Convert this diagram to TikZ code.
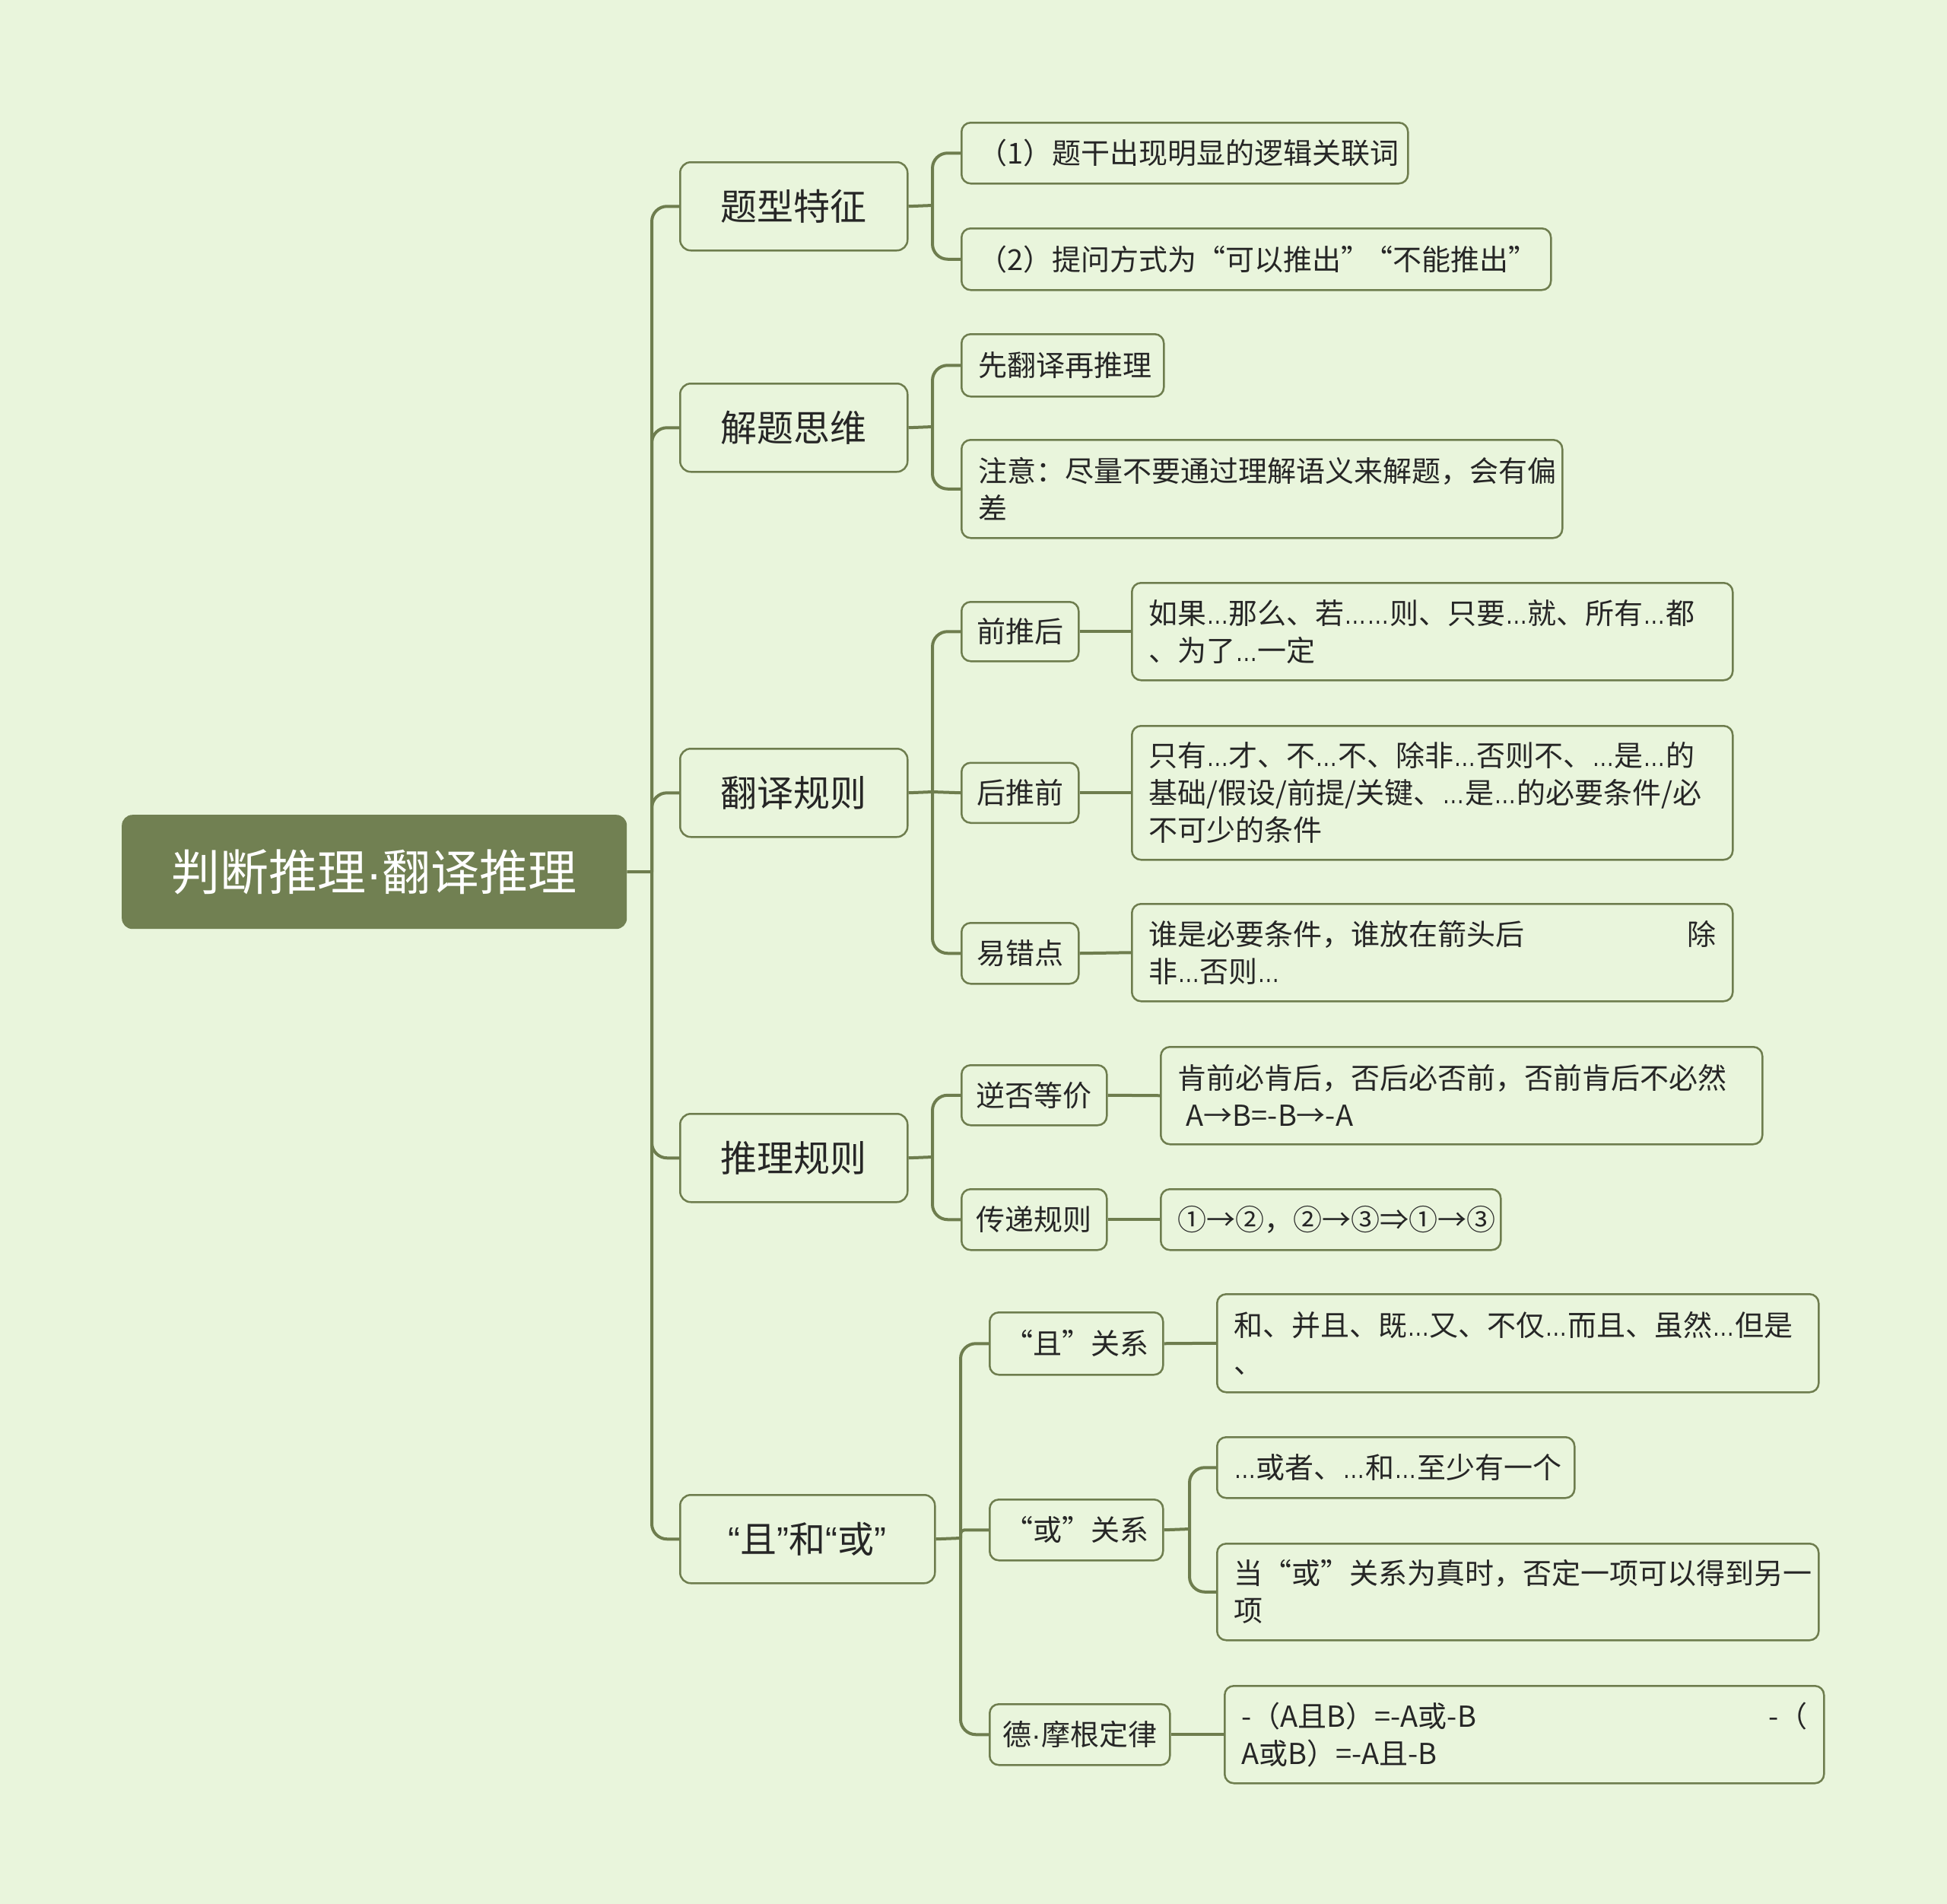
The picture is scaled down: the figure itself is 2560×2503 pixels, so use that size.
\documentclass[tikz,border=0pt]{standalone}
\usepackage{fontspec}
\usepackage{graphicx}
\setmainfont{Noto Sans CJK SC}
\newfontfamily\latinel{Liberation Sans}
\newcommand\el{\scalebox{0.78}[1]{\latinel …}}
\newcommand\mdot{{\latinel ·}}
\definecolor{bgC}{HTML}{E9F5DC}
\definecolor{rootC}{HTML}{718052}
\definecolor{lineC}{HTML}{6E7D4E}
\definecolor{txtC}{HTML}{262626}
\begin{document}
\begin{tikzpicture}[x=1pt,y=-1pt,
  conn/.style={draw=lineC, line width=4pt},
  curv/.style={conn, rounded corners=20pt},
  rootbox/.style={fill=rootC, rounded corners=14pt, text=white, font=\fontsize{64pt}{76pt}\selectfont, inner sep=0pt, anchor=north west, align=center},
  l1box/.style={draw=lineC, line width=2.5pt, fill=bgC, rounded corners=14pt, font=\fontsize{48pt}{58pt}\selectfont, inner sep=0pt, anchor=north west, text=txtC, align=center, minimum height=116pt},
  midbox/.style={draw=lineC, line width=2.5pt, fill=bgC, rounded corners=12pt, font=\fontsize{38pt}{49pt}\selectfont, inner sep=0pt, anchor=north west, text=txtC, align=center},
  leaf/.style={draw=lineC, line width=2.5pt, fill=bgC, rounded corners=12pt, font=\fontsize{38pt}{49pt}\selectfont, inner xsep=22pt, inner ysep=0pt, anchor=north west, text=txtC, align=left}
]
\fill[bgC] (0,0) rectangle (2560,2503);
\useasboundingbox (0,0) rectangle (2560,2503);

% root
\node[rootbox, minimum width=664pt, minimum height=150pt] (root) at (160,1071) {判断推理\mdot 翻译推理};

% level 1
\node[l1box, minimum width=299pt] (A) at (893,212) {题型特征};
\node[l1box, minimum width=299pt] (B) at (893,503) {解题思维};
\node[l1box, minimum width=299pt] (C) at (893,983) {翻译规则};
\node[l1box, minimum width=299pt] (D) at (893,1463) {推理规则};
\node[l1box, minimum width=335pt] (E) at (893,1964) {{\latinel “}且{\latinel ”}和{\latinel “}或{\latinel ”}};

% group A
\node[leaf, text width=543pt, minimum height=80pt] (A1) at (1263,160) {（1）题干出现明显的逻辑关联词};
\node[leaf, text width=731pt, minimum height=81pt] (A2) at (1263,299) {\mbox{（2）提问方式为“可以推出”\hspace{-0.2em}“不能推出”}};

% group B
\node[leaf, text width=222pt, minimum height=82pt] (B1) at (1263,438) {先翻译再推理};
\node[leaf, text width=746pt, minimum height=129pt] (B2) at (1263,577) {注意：尽量不要通过理解语义来解题，会有偏\\差};

% group C
\node[midbox, minimum width=154pt, minimum height=78pt] (C1) at (1263,790) {前推后};
\node[midbox, minimum width=154pt, minimum height=79pt] (C2) at (1263,1001.5) {后推前};
\node[midbox, minimum width=154pt, minimum height=80pt] (C3) at (1263,1212) {易错点};
\node[leaf, text width=746pt, minimum height=128pt] (C1L) at (1487,765) {如果\el 那么、若\el\el 则、只要\el 就、所有\el 都\\、为了\el 一定};
\node[leaf, text width=746pt, minimum height=176pt] (C2L) at (1487,953) {只有\el 才、不\el 不、除非\el 否则不、\el 是\el 的\\基础/假设/前提/关键、\el 是\el 的必要条件/必\\不可少的条件};
\node[leaf, text width=746pt, minimum height=128pt] (C3L) at (1487,1187) {谁是必要条件，谁放在箭头后\hfill 除\\非\el 否则\el};

% group D
\node[midbox, minimum width=191pt, minimum height=79pt] (D1) at (1263,1399) {逆否等价};
\node[midbox, minimum width=191pt, minimum height=80pt] (D2) at (1263,1562) {传递规则};
\node[leaf, text width=747pt, minimum height=128pt] (D1L) at (1525,1375) {肯前必肯后，否后必否前，否前肯后不必然\\\hspace*{0.3em}A→B=-B→-A};
\node[leaf, text width=403pt, minimum height=80pt] (D2L) at (1525,1562) {①→②，②→③⇒①→③};

% group E
\node[midbox, minimum width=228pt, minimum height=82pt] (E1) at (1300,1724) {“且”关系};
\node[midbox, minimum width=228pt, minimum height=80pt] (E2) at (1300,1970) {“或”关系};
\node[midbox, minimum width=237pt, minimum height=80pt] (E3) at (1300,2239) {德\mdot 摩根定律};
\node[leaf, text width=747pt, minimum height=129pt] (E1L) at (1599,1700) {和、并且、既\el 又、不仅\el 而且、虽然\el 但是\\、};
\node[leaf, text width=426pt, minimum height=80pt] (E2a) at (1599,1888) {\el 或者、\el 和\el 至少有一个};
\node[leaf, text width=747pt, minimum height=127pt] (E2b) at (1599,2028) {当“或”关系为真时，否定一项可以得到另一\\项};
\node[leaf, text width=744pt, minimum height=128pt] (E3L) at (1609,2215) {-（A且B）=-A或-B\hfill -（\\A或B）=-A且-B};

% connectors: root
\coordinate (rj) at (857,1146);
\draw[conn] (root.east) -- (rj);
\foreach \n in {A,B,C,D,E} \draw[curv] (rj) |- (\n.west);

% group A
\coordinate (aj) at (1226,270);
\draw[conn] (A.east) -- (aj);
\draw[curv] (aj) |- (A1.west);
\draw[curv] (aj) |- (A2.west);

% group B
\coordinate (bj) at (1226,561);
\draw[conn] (B.east) -- (bj);
\draw[curv] (bj) |- (B1.west);
\draw[curv] (bj) |- (B2.west);

% group C
\coordinate (cj) at (1226,1041);
\draw[conn] (C.east) -- (cj);
\draw[curv] (cj) |- (C1.west);
\draw[conn] (cj) -- (C2.west);
\draw[curv] (cj) |- (C3.west);
\draw[conn] (C1.east) -- (C1L.west);
\draw[conn] (C2.east) -- (C2L.west);
\draw[conn] (C3.east) -- (C3L.west);

% group D
\coordinate (dj) at (1226,1521);
\draw[conn] (D.east) -- (dj);
\draw[curv] (dj) |- (D1.west);
\draw[curv] (dj) |- (D2.west);
\draw[conn] (D1.east) -- (D1L.west);
\draw[conn] (D2.east) -- (D2L.west);

% group E
\coordinate (ej) at (1263,2022);
\draw[conn] (E.east) -- (ej);
\draw[curv] (ej) |- (E1.west);
\draw[conn, rounded corners=5pt] (ej) |- (E2.west);
\draw[curv] (ej) |- (E3.west);
\draw[conn] (E1.east) -- (E1L.west);
\draw[conn] (E3.east) -- (E3L.west);
\coordinate (e2j) at (1564,2010);
\draw[conn] (E2.east) -- (e2j);
\draw[curv] (e2j) |- (E2a.west);
\draw[curv] (e2j) |- (E2b.west);
\end{tikzpicture}
\end{document}
